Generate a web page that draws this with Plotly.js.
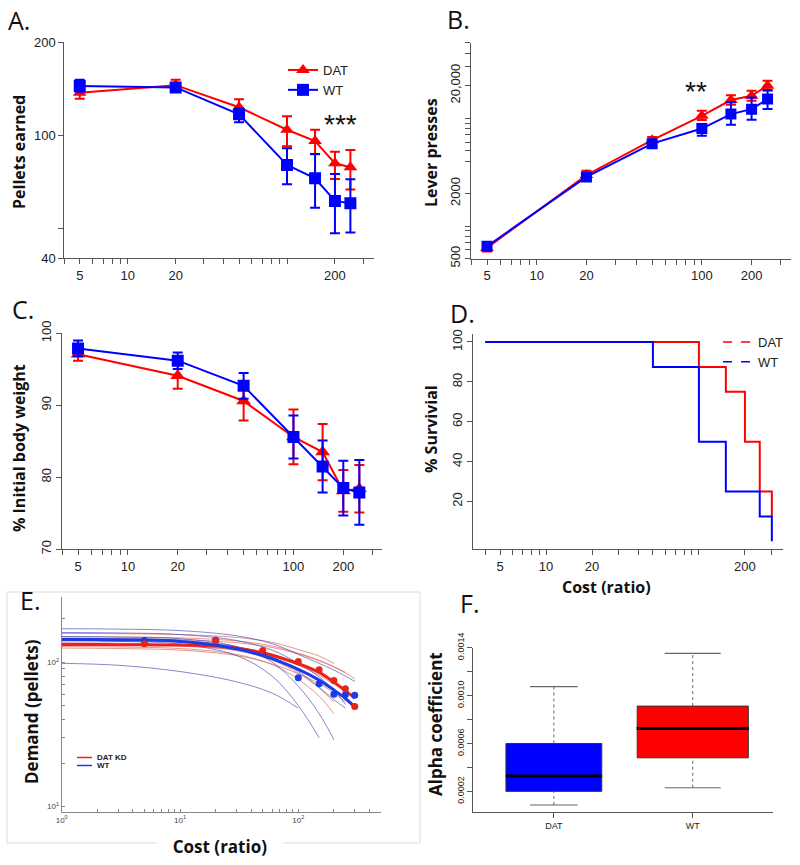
<!DOCTYPE html>
<html><head><meta charset="utf-8">
<script src="https://cdn.plot.ly/plotly-3.0.1.min.js"></script>
<style>html,body{margin:0;padding:0;background:#fff}#chart{width:800px;height:865px}</style>
</head><body><div id="chart"></div>
<script>
// ---------- DATA ----------
const cost = [5, 20, 50, 100, 150, 200, 250];

// A. Pellets earned
const datA    = [137, 145, 123, 104, 95.6, 81, 78.6];
const datA_hi = [143, 151, 130.5, 115, 104, 88.3, 89.4];
const datA_lo = [131, 139, 116, 92, 86.7, 72, 66.7];
const wtA     = [144, 142.6, 116.7, 80, 72.4, 61.2, 60.1];
const wtA_hi  = [151, 147, 122, 90.6, 86.8, 74.8, 71.9];
const wtA_lo  = [138, 138, 110, 69.3, 58.2, 48.1, 48.4];

// B. Lever presses
const datB    = [627, 2972, 6250, 10500, 14700, 16100, 20000];
const datB_hi = [680, 3250, 6700, 11700, 16250, 17950, 22200];
const datB_lo = [580, 2750, 5850, 9600, 13300, 14500, 17950];
const wtB     = [650, 2850, 5800, 8000, 10900, 12100, 15000];
const wtB_hi  = [700, 3050, 6150, 8800, 14000, 15560, 18240];
const wtB_lo  = [605, 2680, 5480, 6860, 8670, 9660, 12130];

// C. % initial body weight
const datC     = [97.1, 94.1, 90.6, 85.6, 83.5, 78.1, 78.4];
const datC_err = [0.9, 1.8, 2.7, 3.8, 3.9, 2.9, 3.3];
const wtC      = [97.9, 96.2, 92.7, 85.6, 81.5, 78.5, 77.9];
const wtC_err  = [1.1, 1.15, 1.8, 3.0, 3.6, 3.8, 4.5];

// D. Survival
const survX_dat = [4, 100, 150, 200, 250, 300];
const survY_dat = [100, 87.5, 75, 50, 25, 12.5];
const survX_wt  = [4, 50, 100, 150, 250, 300];
const survY_wt  = [100, 87.5, 50, 25, 12.5, 0];

// E. Demand curves
const thinX = [1, 3, 10, 30, 60, 100, 150, 200, 250, 300];
const wtCurves = [
  [170, 169, 165, 152, 134, 113, 98, 88, 80, 73.5],
  [160, 159, 155, 141, 121, 98, 79, 64, 51],
  [150, 149, 145, 128, 100, 68, 44, 29],
  [140, 139, 133, 111, 80, 50, 30],
  [146, 145, 141, 128, 108, 86, 67, 55, 48],
  [98, 95, 86, 73, 61, 48]
];
const datCurves = [
  [158, 157, 155, 148, 137, 122, 110, 98],
  [150, 149, 147, 140, 129, 115, 103, 93, 85],
  [141, 140, 137, 127, 113, 98, 84, 73, 63, 56],
  [136, 135, 131, 120, 103, 84, 66, 53],
  [128, 127, 124, 113, 96, 76, 58, 44],
  [125, 124, 121, 111, 97, 83, 71, 61, 53],
  [146, 145, 143, 136, 126, 114, 102, 92, 84, 77],
  [133, 132, 129, 121, 109, 95, 81, 70]
];
const fitX   = [1, 2, 5, 10, 20, 50, 100, 150, 200, 250, 300];
const fitWT  = [143, 143, 142, 139, 131, 111, 89, 75, 64, 56, 49];
const fitDAT = [132, 132, 131.5, 131, 129, 116, 97.3, 84.8, 72.6, 63.5, 56.4];
const dotX   = [5, 20, 50, 100, 150, 200, 250, 300];
const dotWT  = [141, 142, 116, 78, 70.8, 60, 59.3, 59];
const dotDAT = [134, 141, 120, 101, 88.5, 74.6, 65.3, 49.3];

// F. Alpha coefficient boxes
const boxCats   = ['DAT', 'WT'];
const boxLower  = [0.000086, 0.00023];
const boxQ1     = [0.0002, 0.00048];
const boxMedian = [0.000328, 0.000725];
const boxQ3     = [0.0006, 0.000912];
const boxUpper  = [0.001074, 0.001353];

// ticks
const costTicks = [4,5,6,7,8,9,10,20,30,40,50,60,70,80,90,100,200,300];
const lblA = [5,10,20,200], lblB = [5,10,20,100,200], lblC = [5,10,20,100,200], lblD = [5,10,20,200];
const bTicks = [500,600,700,800,900,1000,2000,4000,5000,6000,7000,8000,9000,10000,20000,30000,40000,50000];
const bLabels = {500:'500', 2000:'2000', 20000:'20,000'};
const eXTicks = [1,2,3,4,5,6,7,8,9,10,20,30,40,50,60,70,80,90,100,200,300,400,500];
const eYTicks = [10,20,30,40,50,60,70,80,90,100,200];
const eLabels = {1:'10<sup>0</sup>', 10:'10<sup>1</sup>', 100:'10<sup>2</sup>'};
const fTicks = [0.0002,0.0004,0.0006,0.0008,0.0010,0.0012,0.0014];
const fLabels = ['0.0002','','0.0006','','0.0010','','0.0014'];

// ---------- STYLE ----------
const RED = '#ff0000', BLUE = '#0000ff';
const W = 800, H = 865;
const px = x => x / W, py = y => 1 - y / H;
const SANS = '"Liberation Sans", Arial, sans-serif';
const TITLE = '"Open Sans", sans-serif';
const tickFont = {family: SANS, size: 13, color: '#222'};

function asym(v, hi, lo, color) {
  return {type:'data', symmetric:false, array: hi.map((h,i)=>h-v[i]), arrayminus: lo.map((l,i)=>v[i]-l),
          color: color, thickness: 2, width: 5};
}
function labelsFor(vals, lbl) { return vals.map(v => lbl.includes(v) ? String(v) : ''); }
function ax(extra) {
  return Object.assign({showline:true, linecolor:'#555', linewidth:1, ticks:'outside', ticklen:5,
    tickcolor:'#555', tickwidth:1, showgrid:false, zeroline:false, tickfont:tickFont, fixedrange:true}, extra);
}

const traces = [];
// A
traces.push({x:cost, y:datA, xaxis:'x', yaxis:'y', name:'DAT', mode:'lines+markers', legend:'legend',
  line:{color:RED, width:2}, marker:{symbol:'triangle-up', size:12, color:RED}, error_y:asym(datA, datA_hi, datA_lo, RED)});
traces.push({x:cost, y:wtA, xaxis:'x', yaxis:'y', name:'WT', mode:'lines+markers', legend:'legend',
  line:{color:BLUE, width:2}, marker:{symbol:'square', size:12, color:BLUE}, error_y:asym(wtA, wtA_hi, wtA_lo, BLUE)});
// B
traces.push({x:cost, y:datB, xaxis:'x2', yaxis:'y2', showlegend:false, mode:'lines+markers',
  line:{color:RED, width:2}, marker:{symbol:'triangle-up', size:12, color:RED}, error_y:asym(datB, datB_hi, datB_lo, RED)});
traces.push({x:cost, y:wtB, xaxis:'x2', yaxis:'y2', showlegend:false, mode:'lines+markers',
  line:{color:BLUE, width:2}, marker:{symbol:'square', size:11, color:BLUE}, error_y:asym(wtB, wtB_hi, wtB_lo, BLUE)});
// C
traces.push({x:cost, y:datC, xaxis:'x3', yaxis:'y3', showlegend:false, mode:'lines+markers',
  line:{color:RED, width:2}, marker:{symbol:'triangle-up', size:13, color:RED},
  error_y:{type:'data', array:datC_err, color:RED, thickness:2, width:5}});
traces.push({x:cost, y:wtC, xaxis:'x3', yaxis:'y3', showlegend:false, mode:'lines+markers',
  line:{color:BLUE, width:2}, marker:{symbol:'square', size:12, color:BLUE},
  error_y:{type:'data', array:wtC_err, color:BLUE, thickness:2, width:5}});
// D
traces.push({x:survX_dat, y:survY_dat, xaxis:'x4', yaxis:'y4', showlegend:false, mode:'lines',
  line:{color:RED, width:2, shape:'hv'}});
traces.push({x:survX_wt, y:survY_wt, xaxis:'x4', yaxis:'y4', showlegend:false, mode:'lines',
  line:{color:BLUE, width:2, shape:'hv'}});
traces.push({x:[null], y:[null], xaxis:'x4', yaxis:'y4', name:'DAT', legend:'legend2', mode:'lines',
  line:{color:RED, width:1.5, dash:'dash'}});
traces.push({x:[null], y:[null], xaxis:'x4', yaxis:'y4', name:'WT', legend:'legend2', mode:'lines',
  line:{color:BLUE, width:1.5, dash:'dash'}});
// E
datCurves.forEach(c => traces.push({x:thinX.slice(0,c.length), y:c, xaxis:'x5', yaxis:'y5', showlegend:false,
  mode:'lines', line:{color:'rgba(215,95,80,0.65)', width:1, shape:'spline'}, hoverinfo:'skip'}));
wtCurves.forEach(c => traces.push({x:thinX.slice(0,c.length), y:c, xaxis:'x5', yaxis:'y5', showlegend:false,
  mode:'lines', line:{color:'rgba(70,70,175,0.65)', width:1, shape:'spline'}, hoverinfo:'skip'}));
traces.push({x:fitX, y:fitDAT, xaxis:'x5', yaxis:'y5', showlegend:false, mode:'lines',
  line:{color:'#e8231c', width:3, shape:'spline'}});
traces.push({x:fitX, y:fitWT, xaxis:'x5', yaxis:'y5', showlegend:false, mode:'lines',
  line:{color:'#1c3be8', width:3, shape:'spline'}});
traces.push({x:dotX, y:dotWT, xaxis:'x5', yaxis:'y5', showlegend:false, mode:'markers',
  marker:{color:'#1c3be8', size:7}});
traces.push({x:dotX, y:dotDAT, xaxis:'x5', yaxis:'y5', showlegend:false, mode:'markers',
  marker:{color:'#e8231c', size:7}});
// F  (line-ew marker length is 1.4 x size)
const boxFill = [BLUE, RED], boxW = [0.69, 0.80], capSize = [34, 40], medSize = [68.5, 80];
boxCats.forEach((c,i) => {
  traces.push({type:'box', x:[c], q1:[boxQ1[i]], median:[boxMedian[i]], q3:[boxQ3[i]],
    lowerfence:[boxQ1[i]], upperfence:[boxQ3[i]], xaxis:'x6', yaxis:'y6', showlegend:false,
    fillcolor:boxFill[i], line:{color:'#333', width:1}, width:boxW[i], whiskerwidth:0, boxpoints:false, hoverinfo:'skip'});
  traces.push({x:[c,c], y:[boxQ3[i], boxUpper[i]], xaxis:'x6', yaxis:'y6', showlegend:false, mode:'lines',
    line:{color:'#666', width:1, dash:'3px,3px'}, hoverinfo:'skip'});
  traces.push({x:[c,c], y:[boxLower[i], boxQ1[i]], xaxis:'x6', yaxis:'y6', showlegend:false, mode:'lines',
    line:{color:'#666', width:1, dash:'3px,3px'}, hoverinfo:'skip'});
  traces.push({x:[c,c], y:[boxLower[i], boxUpper[i]], xaxis:'x6', yaxis:'y6', showlegend:false, mode:'markers',
    marker:{symbol:'line-ew', size:capSize[i], line:{color:'#666', width:1.2}}, hoverinfo:'skip'});
  traces.push({x:[c], y:[boxMedian[i]], xaxis:'x6', yaxis:'y6', showlegend:false, mode:'markers',
    marker:{symbol:'line-ew', size:medSize[i], line:{color:'#000', width:3}}, hoverinfo:'skip'});
});

const ann = [];
function label(t, x, y){ ann.push({text:t, x:px(x), y:py(y), xref:'paper', yref:'paper', xanchor:'left', yanchor:'middle',
  showarrow:false, font:{family:TITLE, size:25, color:'#111'}}); }
label('A.', 6, 20); label('B.', 445, 19); label('C.', 10, 309); label('D.', 448, 313); label('E.', 18, 600); label('F.', 458, 603);
function ytitle(t, x, y, size){ ann.push({text:'<b>'+t+'</b>', x:px(x), y:py(y), xref:'paper', yref:'paper', textangle:-90,
  xanchor:'center', yanchor:'middle', showarrow:false, font:{family:TITLE, size:size||16, color:'#111'}}); }
ytitle('Pellets earned', 19, 152); ytitle('Lever presses', 431, 152); ytitle('% Initial body weight', 19, 448);
ytitle('% Survivial', 431, 429); ytitle('Demand (pellets)', 31, 712, 17); ytitle('Alpha coefficient', 435, 724, 17);
function txt(t, x, y, font, extra){ ann.push(Object.assign({text:t, x:px(x), y:py(y), xref:'paper', yref:'paper',
  xanchor:'center', yanchor:'middle', showarrow:false, font:font}, extra || {})); }
txt('<b>Cost (ratio)</b>', 606, 587, {family:TITLE, size:16, color:'#111'});
txt('<b>Cost (ratio)</b>', 220, 846, {family:TITLE, size:17, color:'#111'}, {bgcolor:'#fff', width:124});
txt('***', 340, 125, {family:SANS, size:28, color:'#111'});
txt('**', 696, 92, {family:SANS, size:28, color:'#111'});
txt('<b>DAT KD</b>', 95, 757.5, {family:SANS, size:8, color:'#222'}, {xanchor:'left'});
txt('<b>WT</b>', 95, 765.5, {family:SANS, size:8, color:'#222'}, {xanchor:'left'});

const shapes = [
  {type:'rect', xref:'paper', yref:'paper', x0:px(7), x1:px(420), y0:py(843), y1:py(592), line:{color:'#dcdcdc', width:1}, layer:'below'},
  {type:'line', xref:'paper', yref:'paper', x0:px(77), x1:px(92), y0:py(757.5), y1:py(757.5), line:{color:'#e8231c', width:1.5}},
  {type:'line', xref:'paper', yref:'paper', x0:px(77), x1:px(92), y0:py(765.5), y1:py(765.5), line:{color:'#1c3be8', width:1.5}}
];

const layout = {
  width:W, height:H, margin:{l:0,r:0,t:0,b:0}, paper_bgcolor:'#fff', plot_bgcolor:'rgba(0,0,0,0)',
  showlegend:true, boxmode:'overlay', annotations:ann, shapes:shapes,
  legend:{x:px(283), y:py(55), xanchor:'left', yanchor:'top', bgcolor:'rgba(0,0,0,0)', itemwidth:30, tracegroupgap:0,
    font:{family:SANS, size:13, color:'#222'}},
  legend2:{x:px(718), y:py(327), xanchor:'left', yanchor:'top', bgcolor:'rgba(0,0,0,0)', itemwidth:30, tracegroupgap:0,
    font:{family:SANS, size:13, color:'#222'}},
  xaxis: ax({domain:[px(64.3), px(374.3)], type:'log', range:[Math.log10(4), 2.548], anchor:'y',
    tickmode:'array', tickvals:costTicks, ticktext:labelsFor(costTicks, lblA)}),
  yaxis: ax({domain:[py(258), py(42)], type:'log', range:[Math.log10(40), Math.log10(200)], anchor:'x',
    tickmode:'array', tickvals:[40,50,100,200], ticktext:['40','','100','200']}),
  xaxis2: ax({domain:[px(471), px(790.7)], type:'log', range:[Math.log10(4), 2.538], anchor:'y2',
    tickmode:'array', tickvals:costTicks, ticktext:labelsFor(costTicks, lblB)}),
  yaxis2: ax({domain:[py(258.5), py(42.7)], type:'log', range:[Math.log10(500), Math.log10(50000)], anchor:'x2',
    tickmode:'array', tickvals:bTicks, ticktext:bTicks.map(v => bLabels[v] || ''), tickangle:-90}),
  xaxis3: ax({domain:[px(62), px(381.7)], type:'log', range:[Math.log10(4), 2.533], anchor:'y3',
    tickmode:'array', tickvals:costTicks, ticktext:labelsFor(costTicks, lblC)}),
  yaxis3: ax({domain:[py(549.3), py(333.3)], range:[70,100], anchor:'x3',
    tickmode:'array', tickvals:[70,80,90,100], ticktext:['70','80','90','100'], tickangle:-90}),
  xaxis4: ax({domain:[px(473.3), px(783.3)], type:'log', range:[0.524, 2.552], anchor:'y4',
    tickmode:'array', tickvals:costTicks, ticktext:labelsFor(costTicks, lblD)}),
  yaxis4: ax({domain:[py(549.3), py(334)], range:[-4,104], anchor:'x4',
    tickmode:'array', tickvals:[20,40,60,80,100], ticktext:['20','40','60','80','100'], tickangle:-90}),
  xaxis5: ax({domain:[px(61.7), px(381)], type:'log', range:[0, 2.699], anchor:'y5', ticks:'inside', ticklen:3,
    linecolor:'#888', tickcolor:'#888', tickfont:{family:SANS, size:8, color:'#444'},
    tickmode:'array', tickvals:eXTicks, ticktext:eXTicks.map(v => eLabels[v] || '')}),
  yaxis5: ax({domain:[py(812), py(596.7)], type:'log', range:[0.963, 2.452], anchor:'x5', ticks:'inside', ticklen:3,
    linecolor:'#888', tickcolor:'#888', tickfont:{family:SANS, size:8, color:'#444'},
    tickmode:'array', tickvals:eYTicks, ticktext:eYTicks.map(v => eLabels[v] || '')}),
  xaxis6: ax({domain:[px(473.3), px(773.3)], type:'category', categoryorder:'array', categoryarray:boxCats,
    range:[-0.58, 1.58], anchor:'y6', tickfont:{family:SANS, size:9, color:'#222'}}),
  yaxis6: ax({domain:[py(811.7), py(647.7)], range:[0.00003, 0.0014], anchor:'x6', tickangle:-90,
    tickfont:{family:SANS, size:9, color:'#222'}, tickmode:'array', tickvals:fTicks, ticktext:fLabels})
};

Plotly.newPlot('chart', traces, layout, {staticPlot:true, displayModeBar:false});
</script></body></html>
